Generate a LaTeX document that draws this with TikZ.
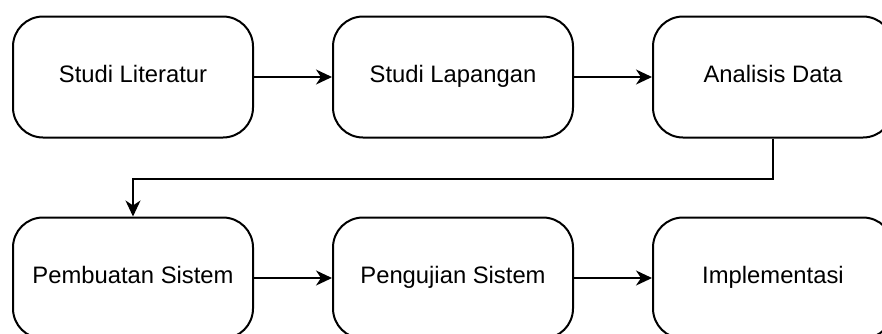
\documentclass[tikz,border=0pt]{standalone}
\usepackage{fontspec}
\setmainfont{Liberation Sans}
\usetikzlibrary{arrows.meta}

\begin{document}
\begin{tikzpicture}[x=0.5pt, y=-0.5pt,
    stage/.style={draw, line width=1pt, rounded corners=15pt, minimum width=120pt,
        minimum height=60.5pt, inner sep=0pt, text height=0.72em, text depth=0.21em,
        font=\fontsize{11.9}{14}\selectfont},
    flow/.style={line width=0.8pt, -{Stealth[length=8pt, width=7.5pt, inset=2.5pt]}}]
    \useasboundingbox (0, 0) rectangle (882, 333);
    \clip (0, 0) rectangle (882, 333);

    % Top row
    \node[stage] (lit) at (133, 77) {Studi Literatur};
    \node[stage] (lap) at (453, 77) {Studi Lapangan};
    \node[stage] (ana) at (773, 77) {Analisis Data};

    % Bottom row
    \node[stage] (buat) at (133, 278) {Pembuatan Sistem};
    \node[stage] (uji) at (453, 278) {Pengujian Sistem};
    \node[stage] (impl) at (773, 278) {Implementasi};

    \draw[flow] (lit) -- (lap);
    \draw[flow] (lap) -- (ana);
    \draw[flow] (ana.south) -- ++(0, 40.5) -| (buat.north);
    \draw[flow] (buat) -- (uji);
    \draw[flow] (uji) -- (impl);
\end{tikzpicture}
\end{document}
